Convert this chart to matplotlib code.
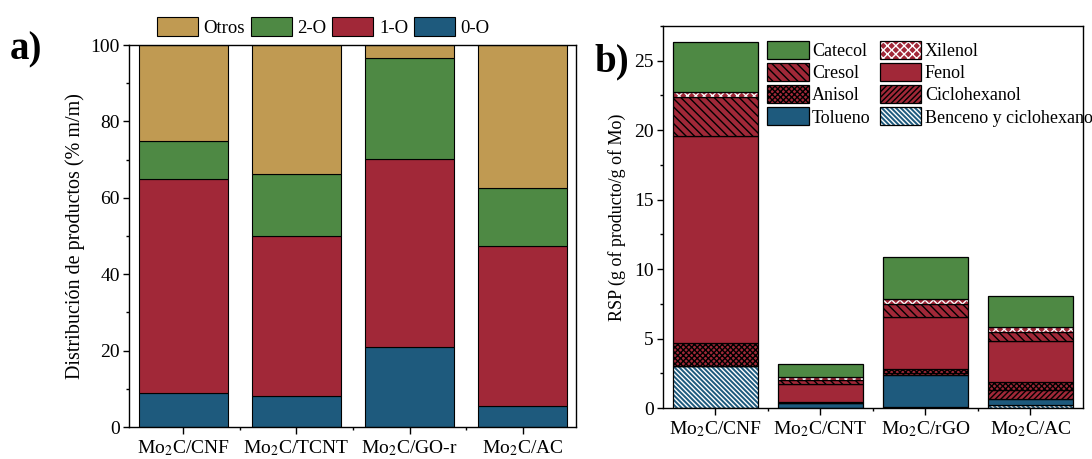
import numpy as np
import matplotlib.pyplot as plt
from matplotlib.legend_handler import HandlerTuple
from matplotlib.ticker import MultipleLocator, FixedLocator

plt.rcParams['font.family'] = ['Liberation Serif', 'DejaVu Serif']
plt.rcParams['mathtext.fontset'] = 'stix'
plt.rcParams['hatch.linewidth'] = 1.0

# colours
C_TAN = '#C09A52'
C_GREEN = '#4E8944'
C_RED = '#A12838'
C_BLUE = '#1E5A7D'

# --- a) product distribution (% m/m) ---
cats_a = ['Mo$_2$C/CNF', 'Mo$_2$C/TCNT', 'Mo$_2$C/GO-r', 'Mo$_2$C/AC']
o0 = [8.9, 8.2, 20.9, 5.4]
o1 = [56.0, 41.8, 49.3, 41.9]
o2 = [10.1, 16.2, 26.5, 15.4]
otros = [25.0, 33.8, 3.3, 37.3]

# --- b) RSP per compound (g product / g Mo) ---
cats_b = ['Mo$_2$C/CNF', 'Mo$_2$C/CNT', 'Mo$_2$C/rGO', 'Mo$_2$C/AC']
benceno = [3.03, 0.03, 0.10, 0.25]
tolueno = [0.00, 0.32, 2.25, 0.40]
ciclohexanol = [0.00, 0.00, 0.20, 0.65]
anisol = [1.63, 0.05, 0.23, 0.60]
fenol = [14.94, 1.35, 3.80, 2.95]
cresol = [2.76, 0.25, 0.91, 0.60]
xilenol = [0.41, 0.20, 0.36, 0.41]
catecol = [3.58, 0.95, 3.01, 2.21]

fig = plt.figure(figsize=(10.92, 4.59), dpi=100)
ax1 = fig.add_axes([0.1181, 0.0697, 0.4093, 0.8322])
ax2 = fig.add_axes([0.6071, 0.1111, 0.3846, 0.8322])


def style_axis(ax, fs_x, fs_y):
    ax.tick_params(axis='both', which='both', direction='out', top=False, right=False)
    ax.tick_params(axis='x', which='major', length=5, width=1, labelsize=fs_x, pad=3)
    ax.tick_params(axis='x', which='minor', length=2.5, width=1)
    ax.tick_params(axis='y', which='major', length=4.5, width=1, labelsize=fs_y, pad=2)
    ax.tick_params(axis='y', which='minor', length=2.5, width=1)
    for s in ax.spines.values():
        s.set_linewidth(1.0)


# panel a
x_a = np.arange(len(cats_a))
w_a = 0.79
bottom = np.zeros(len(cats_a))
series_a = [(o0, C_BLUE, '0-O'), (o1, C_RED, '1-O'), (o2, C_GREEN, '2-O'), (otros, C_TAN, 'Otros')]
handles_a = {}
for vals, col, lab in series_a:
    bars = ax1.bar(x_a, vals, bottom=bottom, width=w_a, color=col,
                   edgecolor='black', linewidth=0.8, label=lab)
    handles_a[lab] = bars
    bottom += np.array(vals)

ax1.set_xlim(-0.48, 3.47)
ax1.set_ylim(0, 100)
ax1.set_xticks(x_a)
ax1.set_xticklabels(cats_a)
ax1.xaxis.set_minor_locator(FixedLocator([0.5, 1.5, 2.5]))
ax1.yaxis.set_major_locator(MultipleLocator(20))
ax1.yaxis.set_minor_locator(MultipleLocator(10))
ax1.set_ylabel('Distribución de productos (% m/m)', fontsize=14.5, labelpad=4)
style_axis(ax1, 14, 14)

order_a = ['Otros', '2-O', '1-O', '0-O']
fig.legend([handles_a[k] for k in order_a], order_a, loc='center',
           bbox_to_anchor=(0.296, 0.941), ncol=4, frameon=False, fontsize=13.5,
           handlelength=2.2, handleheight=1.2, columnspacing=0.3,
           handletextpad=0.3, borderpad=0)

# panel b
x_b = np.arange(len(cats_b))
w_b = 0.81
series_b = [
    (benceno, C_BLUE, 'white', '\\' * 7, 'Benceno y ciclohexano'),
    (tolueno, C_BLUE, None, '', 'Tolueno'),
    (ciclohexanol, C_RED, 'black', '/' * 6, 'Ciclohexanol'),
    (anisol, C_RED, 'black', 'x' * 6, 'Anisol'),
    (fenol, C_RED, None, '', 'Fenol'),
    (cresol, C_RED, 'black', '\\' * 4, 'Cresol'),
    (xilenol, C_RED, 'white', 'xxxx', 'Xilenol'),
    (catecol, C_GREEN, None, '', 'Catecol'),
]
handles_b = {}
bottom = np.zeros(len(cats_b))
for vals, col, hcol, hatch, lab in series_b:
    fill = ax2.bar(x_b, vals, bottom=bottom, width=w_b, color=col,
                   edgecolor=hcol if hcol else col, linewidth=0, hatch=hatch or None)
    edge = ax2.bar(x_b, vals, bottom=bottom, width=w_b, fill=False,
                   edgecolor='black', linewidth=0.9)
    handles_b[lab] = (fill.patches[0], edge.patches[0])
    bottom += np.array(vals)

ax2.set_xlim(-0.5, 3.5)
ax2.set_ylim(0, 27.5)
ax2.set_xticks(x_b)
ax2.set_xticklabels(cats_b)
ax2.xaxis.set_minor_locator(FixedLocator([0.5, 1.5, 2.5]))
ax2.yaxis.set_major_locator(MultipleLocator(5))
ax2.yaxis.set_minor_locator(MultipleLocator(2.5))
ax2.set_ylabel('RSP (g of producto/g of Mo)', fontsize=13, labelpad=6)
style_axis(ax2, 14, 14)

order_b = ['Catecol', 'Cresol', 'Anisol', 'Tolueno',
           'Xilenol', 'Fenol', 'Ciclohexanol', 'Benceno y ciclohexano']
fig.legend([handles_b[k] for k in order_b], order_b, loc='upper left',
           bbox_to_anchor=(767 / 1092, 1 - 41 / 459), ncol=2, frameon=False,
           fontsize=13, handlelength=2.3, handleheight=1.15, labelspacing=0.17,
           columnspacing=0.5, handletextpad=0.2, borderpad=0, borderaxespad=0,
           handler_map={tuple: HandlerTuple(ndivide=1, pad=0)})

# panel letters
fig.text(0.009, 0.87, 'a)', fontsize=28, fontweight='bold')
fig.text(0.544, 0.845, 'b)', fontsize=28, fontweight='bold')

fig.savefig('out.png', dpi=100)
